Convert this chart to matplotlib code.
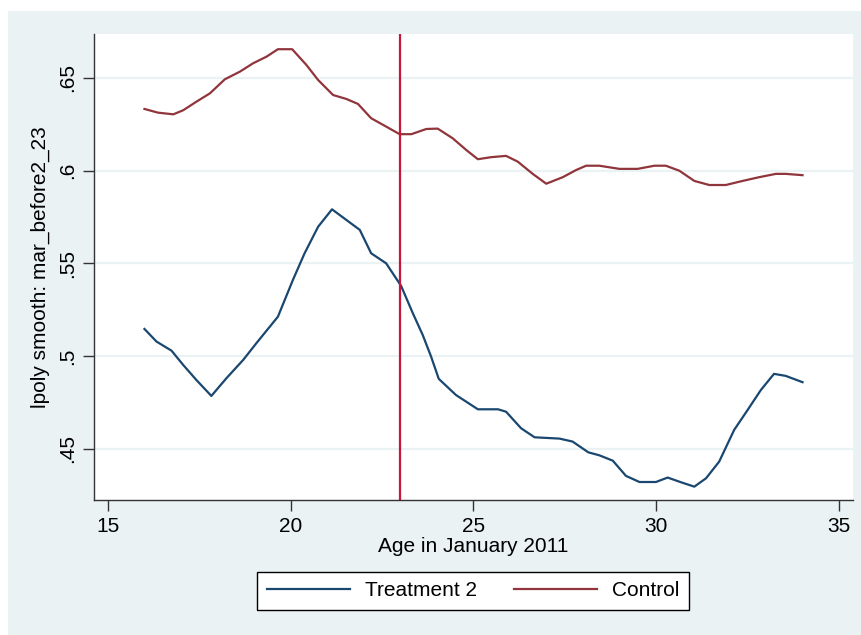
import matplotlib
matplotlib.use("Agg")
import matplotlib.pyplot as plt
from matplotlib.patches import Rectangle

# Data
treat_x = [16.0, 16.33, 16.74, 17.06, 17.42, 17.83, 18.24, 18.7, 19.06, 19.65, 20.06, 20.38,
           20.75, 21.13, 21.52, 21.89, 22.2, 22.61, 23.02, 23.34, 23.61, 23.84, 24.05, 24.52,
           25.12, 25.67, 25.89, 26.3, 26.67, 27.35, 27.71, 28.14, 28.44, 28.81, 29.17, 29.54,
           29.99, 30.31, 30.67, 31.04, 31.36, 31.72, 32.13, 32.5, 32.86, 33.22, 33.54, 34.0]
treat_y = [0.5147, 0.5079, 0.503, 0.4953, 0.4872, 0.4786, 0.4881, 0.498, 0.507, 0.5213, 0.5411, 0.5555,
           0.5698, 0.5792, 0.5735, 0.5681, 0.5555, 0.5501, 0.5379, 0.5232, 0.5115, 0.4998, 0.4878, 0.4791,
           0.4714, 0.4714, 0.4701, 0.4612, 0.4563, 0.4556, 0.454, 0.4482, 0.4466, 0.4437, 0.4355, 0.4322,
           0.4322, 0.4346, 0.4321, 0.4297, 0.4342, 0.4432, 0.4603, 0.4711, 0.4818, 0.4905, 0.4894, 0.486]

ctrl_x = [16.0, 16.37, 16.79, 17.06, 17.42, 17.79, 18.2, 18.61, 18.97, 19.34, 19.65, 20.04,
          20.43, 20.75, 21.16, 21.52, 21.84, 22.2, 22.61, 22.98, 23.3, 23.71, 24.02, 24.43,
          24.8, 25.12, 25.48, 25.89, 26.21, 26.62, 26.99, 27.44, 27.81, 28.08, 28.44, 28.99,
          29.49, 29.95, 30.26, 30.63, 31.04, 31.45, 31.9, 32.36, 32.81, 33.27, 33.54, 34.0]
ctrl_y = [0.6333, 0.6313, 0.6304, 0.6326, 0.6372, 0.6417, 0.6493, 0.6534, 0.6579, 0.6615, 0.6655, 0.6655,
          0.657, 0.6489, 0.6408, 0.6387, 0.636, 0.6283, 0.6238, 0.6197, 0.6197, 0.6225, 0.6227, 0.6175,
          0.6112, 0.6062, 0.6073, 0.608, 0.6049, 0.5983, 0.593, 0.5965, 0.6004, 0.6027, 0.6027, 0.601,
          0.601, 0.6027, 0.6027, 0.6, 0.5945, 0.5923, 0.5923, 0.5945, 0.5965, 0.5983, 0.5983, 0.5976]

x_ticks = [15, 20, 25, 30, 35]
y_ticks = [0.45, 0.5, 0.55, 0.6, 0.65]
y_ticklabels = [".45", ".5", ".55", ".6", ".65"]
cutoff = 23
series_labels = ["Treatment 2", "Control"]

plt.rcParams['font.family'] = ['Liberation Sans', 'DejaVu Sans']

W, H = 862, 635
fig = plt.figure(figsize=(W / 100, H / 100), dpi=100, facecolor='white')
panel = '#eaf2f3'
fig.patches.append(Rectangle((8 / W, 0), 1 - 8 / W, 1 - 11 / H, transform=fig.transFigure,
                             facecolor=panel, edgecolor='none', zorder=-10))

ax = fig.add_axes([94 / W, 1 - 500 / H, (853 - 94) / W, (500 - 34) / H])
ax.set_facecolor('white')

blue = '#1a476f'
red = '#90353b'
l1, = ax.plot(treat_x, treat_y, color=blue, lw=1.6, label=series_labels[0], zorder=3)
l2, = ax.plot(ctrl_x, ctrl_y, color=red, lw=1.6, label=series_labels[1], zorder=3)
ax.axvline(cutoff, color='#c8163a', lw=1.6, zorder=4)

ax.set_xlim(14.62, 35.38)
ax.set_ylim(0.4225, 0.6737)
ax.set_xticks(x_ticks)
ax.set_xticklabels([str(t) for t in x_ticks])
ax.set_yticks(y_ticks)
ax.set_yticklabels(y_ticklabels, rotation=90, va='center')
ax.grid(axis='y', color=panel, lw=1.6, zorder=1)
ax.set_axisbelow(True)

for s in ['top', 'right']:
    ax.spines[s].set_visible(False)
for s in ['left', 'bottom']:
    ax.spines[s].set_color('#333333')
    ax.spines[s].set_linewidth(1.0)

fs = 15
ax.tick_params(axis='both', direction='out', length=8, width=1.0, color='#333333',
               labelsize=fs, labelcolor='black', pad=4)

ax.set_xlabel('Age in January 2011', fontsize=fs, labelpad=1)
ax.set_ylabel('lpoly smooth: mar_before2_23', fontsize=fs, labelpad=6)

leg = fig.legend(handles=[l1, l2], loc='center', bbox_to_anchor=(473 / W, 1 - 591 / H),
                 ncol=2, fontsize=fs, frameon=True, fancybox=False, edgecolor='black',
                 framealpha=1, handlelength=4.0, handletextpad=0.7, columnspacing=1.8,
                 borderpad=0.45, borderaxespad=0)
leg.get_frame().set_linewidth(1.0)

fig.savefig('out.png', dpi=100, facecolor='white')
